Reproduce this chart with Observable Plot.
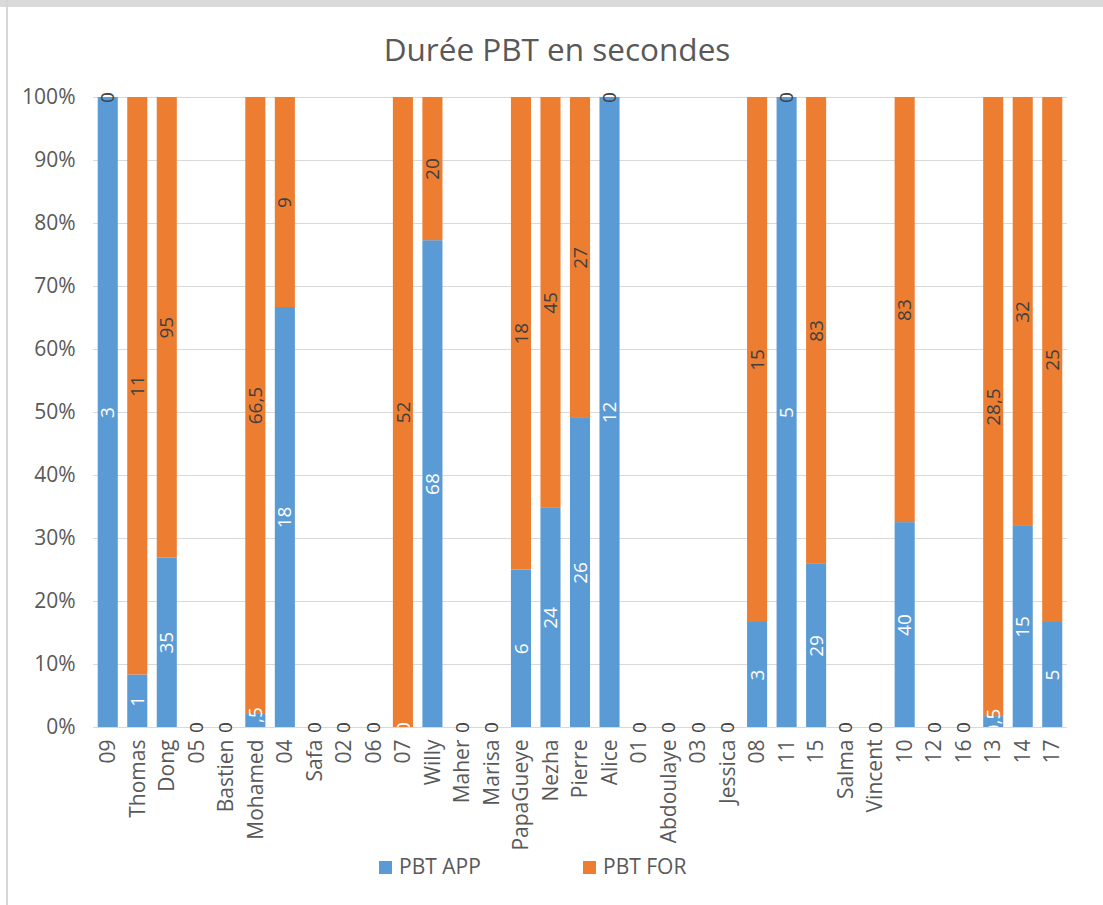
<!DOCTYPE html>
<html><head><meta charset="utf-8">
<script src="https://cdn.jsdelivr.net/npm/d3@7"></script>
<script src="https://cdn.jsdelivr.net/npm/@observablehq/plot@0.6"></script>
<style>
body{margin:0;background:#fff;font-family:"Open Sans",sans-serif;}
#wrap{position:relative;width:1103px;height:905px;overflow:hidden;background:#fff;}
#topband{position:absolute;left:0;top:0;width:1103px;height:7px;background:#dadada;}
#leftline{position:absolute;left:6px;top:0;width:2px;height:905px;background:#d6d6d6;}
#title{position:absolute;left:0;width:1114px;top:28px;text-align:center;font-size:31.5px;line-height:42px;color:#595959;}
#chart{position:absolute;left:0;top:80px;}
.leg{position:absolute;top:851px;font-size:21px;line-height:30px;color:#595959;}
.sw{display:inline-block;width:13px;height:13px;margin-right:7px;vertical-align:0px;}
</style>
</head><body>
<div id="wrap">
  <div id="topband"></div>
  <div id="leftline"></div>
  <div id="title">Durée PBT en secondes</div>
  <div id="chart"></div>
  <div id="legend"></div>
</div>
<script>
const names = ["09","Thomas","Dong","05","Bastien","Mohamed","04","Safa","02","06","07","Willy","Maher","Marisa","PapaGueye","Nezha","Pierre","Alice","01","Abdoulaye","03","Jessica","08","11","15","Salma","Vincent","10","12","16","13","14","17"];
const pbtApp = [3,1,35,0,0,1.5,18,0,0,0,0,68,0,0,6,24,26,12,0,0,0,0,3,5,29,0,0,40,0,0,0.5,15,5];
const pbtFor = [0,11,95,0,0,66.5,9,0,0,0,52,20,0,0,18,45,27,0,0,0,0,0,15,0,83,0,0,83,0,0,28.5,32,25];
const seriesNames = ["PBT APP","PBT FOR"];
const seriesColors = ["#5B9BD5","#ED7D31"];
const yTicks = [0,0.1,0.2,0.3,0.4,0.5,0.6,0.7,0.8,0.9,1];

const data = [];
[pbtApp, pbtFor].forEach((vals, si) => {
  names.forEach((n, i) => data.push({name: n, series: seriesNames[si], value: vals[i]}));
});
const fmt = v => String(v).replace(".", ",");

const stackOpts = {offset: "normalize", x: "name", y: "value", z: "series"};

const chart = Plot.plot({
  width: 1103,
  height: 767,
  marginLeft: 93,
  marginRight: 36,
  marginTop: 17,
  marginBottom: 120,
  style: {fontFamily: '"Open Sans", sans-serif', fontSize: "21px", color: "#595959", background: "transparent", overflow: "visible"},
  x: {domain: names, paddingInner: 0.32, paddingOuter: 0.16, round: false, label: null, tickSize: 0, tickRotate: -90, tickPadding: 12},
  y: {domain: [0, 1], ticks: yTicks, tickFormat: d3.format(".0%"), label: null, tickSize: 0, tickPadding: 18},
  color: {domain: seriesNames, range: seriesColors},
  marks: [
    Plot.ruleY(yTicks, {y: d => d, stroke: "#d9d9d9", strokeWidth: 1}),
    Plot.barY(data, Plot.stackY({...stackOpts, fill: "series"})),
    Plot.text(data, Plot.stackY({...stackOpts,
      text: d => d.series === seriesNames[0] ? fmt(d.value) : null,
      rotate: -90, fill: "white", fontSize: 19, clip: true})),
    Plot.text(data, Plot.stackY({...stackOpts,
      text: d => d.series === seriesNames[1] ? fmt(d.value) : null,
      rotate: -90, fill: "#404040", fontSize: 19}))
  ]
});
document.getElementById("chart").appendChild(chart);

const legend = document.getElementById("legend");
const legX = [379, 583];
seriesNames.forEach((s, i) => {
  const d = document.createElement("div");
  d.className = "leg";
  d.style.left = legX[i] + "px";
  d.innerHTML = `<span class="sw" style="background:${seriesColors[i]}"></span>${s}`;
  legend.appendChild(d);
});
</script>
</body></html>
